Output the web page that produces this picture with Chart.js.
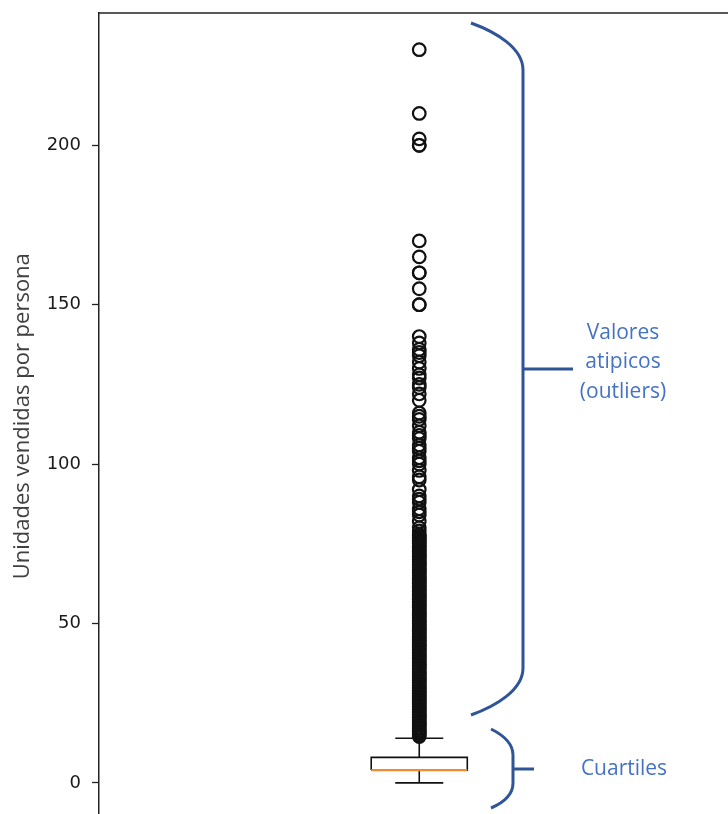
<!DOCTYPE html>
<html>
<head>
<meta charset="utf-8">
<script src="https://cdn.jsdelivr.net/npm/chart.js@4.4.1/dist/chart.umd.min.js"></script>
<style>
  html, body { margin: 0; padding: 0; background: #fff; overflow: hidden; width: 728px; height: 814px; }
  #wrap { position: absolute; left: 0; top: 0; width: 748px; height: 828px; }
</style>
</head>
<body>
<div id="wrap"><canvas id="c" width="748" height="828"></canvas></div>
<script>
// Boxplot summary (units sold per person)
const boxPosition = [1];
const quartiles = [4, 4, 8];          // Q1, median, Q3
const whiskers = [0, 14];             // lower, upper whisker ends
const yTicks = [0, 50, 100, 150, 200];

// Points beyond the upper whisker
const outliers = [
  230, 210, 202, 200, 200,
  170, 165, 160, 160, 155, 150, 150,
  140, 138, 136, 135, 134, 132, 130, 128, 127, 125, 124, 122, 120,
  116, 115, 114, 112, 110, 109, 108, 106, 105, 104, 102, 101, 100, 98,
  96, 95, 92, 90, 89, 88, 86, 85, 84, 82,
  80, 79, 78, 77, 76, 75, 74, 73, 72, 71, 70,
  69, 68, 67, 66, 65, 64, 63, 62, 61, 60,
  59, 58, 57, 56, 55, 54, 53, 52, 51, 50,
  49, 48, 47, 46, 45, 44, 43, 42, 41, 40,
  39, 38, 37, 36, 35, 34, 33, 32, 31, 30,
  29, 28, 27, 26, 25, 24, 23, 22, 21, 20,
  19, 18, 17, 16, 15,
  77.5, 76.5, 75.5, 74.5, 73.5, 72.5, 71.5, 70.5,
  69.5, 68.5, 67.5, 66.5, 65.5, 64.5, 63.5, 62.5, 61.5, 60.5,
  59.5, 58.5, 57.5, 56.5, 55.5, 54.5, 53.5, 52.5, 51.5, 50.5,
  49.5, 48.5, 47.5, 46.5, 45.5, 44.5, 43.5, 42.5, 41.5, 40.5,
  39.5, 38.5, 37.5, 36.5, 35.5, 34.5, 33.5, 32.5, 31.5, 30.5,
  29.5, 28.5, 27.5, 26.5, 25.5, 24.5, 23.5, 22.5, 21.5, 20.5,
  19.5, 18.5, 17.5, 16.5, 15.5, 14.5
];

const yTitle = 'Unidades vendidas por persona';
const outlierNote = ['Valores', 'atipicos', '(outliers)'];
const quartileNote = 'Cuartiles';

// Box geometry in x-axis units
const BOX_HALF = 0.075;
const CAP_HALF = 0.0375;

const xc = boxPosition[0];
const [q1, med, q3] = quartiles;
const [wLo, wHi] = whiskers;

const lineStyle = (color, width) => ({
  type: 'line', showLine: true, fill: false, pointRadius: 0, pointHoverRadius: 0,
  borderColor: color, borderWidth: width, tension: 0
});

const datasets = [
  Object.assign(lineStyle('#111', 1.6), {
    label: 'box', order: 3,
    data: [{x: xc - BOX_HALF, y: q1}, {x: xc + BOX_HALF, y: q1}, {x: xc + BOX_HALF, y: q3},
           {x: xc - BOX_HALF, y: q3}, {x: xc - BOX_HALF, y: q1}]
  }),
  Object.assign(lineStyle('#111', 1.6), {
    label: 'upper whisker', order: 3,
    data: [{x: xc, y: q3}, {x: xc, y: wHi}]
  }),
  Object.assign(lineStyle('#111', 1.6), {
    label: 'upper cap', order: 3,
    data: [{x: xc - CAP_HALF, y: wHi}, {x: xc + CAP_HALF, y: wHi}]
  }),
  Object.assign(lineStyle('#111', 1.6), {
    label: 'lower whisker', order: 3,
    data: [{x: xc, y: q1}, {x: xc, y: wLo}]
  }),
  Object.assign(lineStyle('#111', 1.6), {
    label: 'lower cap', order: 3,
    data: [{x: xc - CAP_HALF, y: wLo}, {x: xc + CAP_HALF, y: wLo}]
  }),
  Object.assign(lineStyle('#f28a2e', 2.2), {
    label: 'median', order: 1,
    data: [{x: xc - BOX_HALF, y: med}, {x: xc + BOX_HALF, y: med}]
  }),
  {
    type: 'scatter', label: 'outliers', order: 2,
    data: outliers.map(v => ({x: xc, y: v})),
    pointRadius: 6.3, pointHoverRadius: 6.3, pointBorderWidth: 2.2,
    pointBackgroundColor: 'rgba(0,0,0,0)', pointBorderColor: '#111'
  }
];

// Top spine plus the braces and notes on the right
const decorations = {
  id: 'decorations',
  afterDraw(chart) {
    const {ctx, chartArea} = chart;
    ctx.save();
    ctx.strokeStyle = '#222';
    ctx.lineWidth = 1.5;
    ctx.beginPath();
    ctx.moveTo(chartArea.left, chartArea.top);
    ctx.lineTo(chartArea.right, chartArea.top);
    ctx.stroke();

    ctx.strokeStyle = '#2F5597';
    ctx.lineWidth = 3;
    ctx.lineCap = 'butt';
    // brace over the outliers
    ctx.beginPath();
    ctx.moveTo(471, 23);
    ctx.bezierCurveTo(496, 32, 523, 48, 523, 70);
    ctx.lineTo(523, 668);
    ctx.bezierCurveTo(523, 690, 496, 706, 471, 715);
    ctx.stroke();
    ctx.beginPath();
    ctx.moveTo(523, 369);
    ctx.lineTo(573, 369);
    ctx.stroke();
    // brace over the box
    ctx.beginPath();
    ctx.moveTo(491, 729);
    ctx.bezierCurveTo(505, 736, 513, 744, 513, 755);
    ctx.lineTo(513, 783);
    ctx.bezierCurveTo(513, 794, 505, 802, 491, 808);
    ctx.stroke();
    ctx.beginPath();
    ctx.moveTo(513, 769);
    ctx.lineTo(534, 769);
    ctx.stroke();

    ctx.fillStyle = '#4472C4';
    ctx.font = '21px "Open Sans"';
    ctx.textAlign = 'center';
    ctx.textBaseline = 'middle';
    const lineYs = [333, 362, 392];
    outlierNote.forEach((t, i) => ctx.fillText(t, 623, lineYs[i]));
    ctx.fillText(quartileNote, 624, 769);
    ctx.restore();
  }
};

new Chart(document.getElementById('c'), {
  type: 'scatter',
  data: { datasets },
  plugins: [decorations],
  options: {
    responsive: false,
    animation: false,
    devicePixelRatio: 1,
    layout: { padding: { top: 13, right: 1, bottom: 1, left: 0 } },
    plugins: { legend: { display: false }, tooltip: { enabled: false } },
    scales: {
      x: { type: 'linear', min: 0.5, max: 1.5, display: false },
      y: {
        type: 'linear', min: -11.5, max: 241.5,
        afterBuildTicks: (scale) => { scale.ticks = yTicks.map(v => ({ value: v })); },
        afterFit: (scale) => {
          scale.width = 99;
          scale.paddingTop = 0;
          scale.paddingBottom = 0;
        },
        border: { display: true, color: '#222', width: 1.5 },
        grid: { drawOnChartArea: false, drawTicks: true, tickLength: 7, tickColor: '#222', tickWidth: 1.3 },
        ticks: { color: '#1a1a1a', padding: 11, font: { family: '"DejaVu Sans"', size: 18 } },
        title: {
          display: true, text: yTitle, color: '#404040',
          font: { family: '"Open Sans"', size: 22 },
          padding: { top: 10, bottom: 0 }
        }
      }
    }
  }
});
</script>
</body>
</html>
